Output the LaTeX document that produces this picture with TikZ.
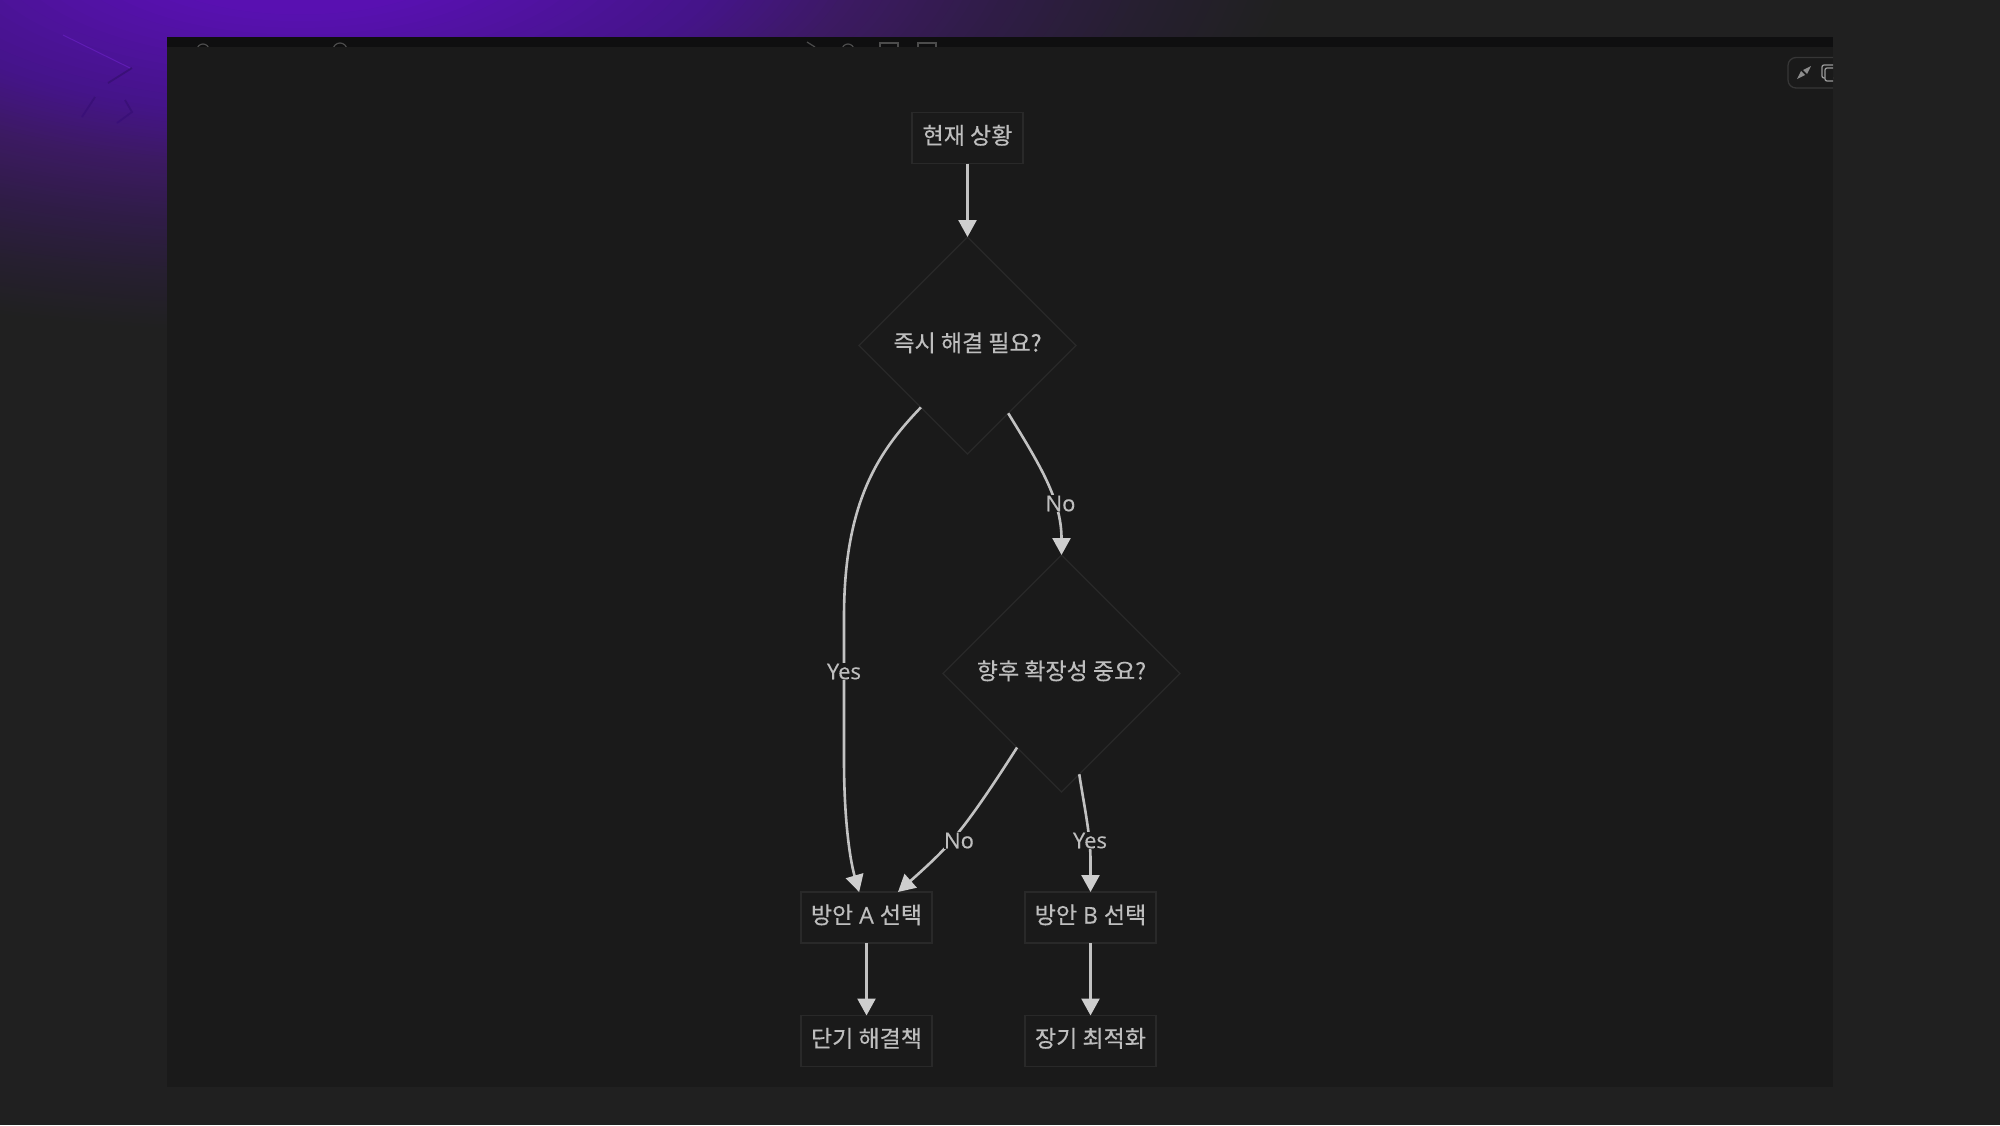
\documentclass[tikz,border=0pt]{standalone}
\usepackage{fontspec}
\setmainfont[FakeBold=0.35]{Open Sans}
\newfontfamily\cjk[FakeBold=0.35]{Noto Sans CJK KR}
\usetikzlibrary{arrows.meta,shapes.geometric}
\definecolor{pagebg}{HTML}{202020}
\definecolor{panelbg}{HTML}{1A1A1A}
\definecolor{barbg}{HTML}{0F0F10}
\definecolor{nodeline}{HTML}{292929}
\definecolor{ctlline}{HTML}{363636}
\definecolor{edgecol}{HTML}{C2C2C2}
\definecolor{tipcol}{HTML}{CECECE}
\definecolor{txtcol}{HTML}{BEBEBE}
\definecolor{gA}{HTML}{5A10B4}
\definecolor{gB}{HTML}{45148A}
\definecolor{gC}{HTML}{3C1A62}
\definecolor{gD}{HTML}{301C48}
\definecolor{gE}{HTML}{261F30}
\definecolor{markdark}{HTML}{3A1078}
\definecolor{marklight}{HTML}{5F1CB4}
\tikzset{
  box/.style={draw=nodeline,line width=1.2pt,fill=panelbg,text=txtcol,inner sep=0pt,outer sep=0pt,
    minimum width=131pt,minimum height=51pt,text height=16pt,text depth=4pt,font=\fontsize{23}{26}\selectfont},
  dec/.style={diamond,aspect=1,draw=nodeline,line width=1.2pt,fill=panelbg,text=txtcol,inner sep=0pt,outer sep=0pt,
    text height=16pt,text depth=4pt,font=\fontsize{23}{26}\selectfont},
  edge/.style={draw=edgecol,line width=2.6pt,-{Triangle[length=17pt,width=18pt,fill=tipcol,color=tipcol]}},
  lab/.style={fill=panelbg,text=txtcol,inner sep=0.5pt,outer sep=0pt,font=\fontsize{22}{24}\selectfont},
  tool/.style={draw=#1,line width=1.2pt,fill=none},
}
\begin{document}
\begin{tikzpicture}[x=1pt,y=-1pt]
\useasboundingbox (0,0) rectangle (2000,1125);
\fill[pagebg] (0,0) rectangle (2000,1125);
% purple glow: nested ellipses
\begin{scope}
  \clip (0,0) rectangle (2000,1125);
  \foreach \ra/\rb/\ca/\cb in {0.86/1.0/gE/pagebg,0.71/0.86/gD/gE,0.57/0.71/gC/gD,0.43/0.57/gB/gC,0.15/0.43/gA/gB}{
    \foreach \k in {16,15,...,1}{
      \pgfmathsetmacro{\rr}{\ra+(\rb-\ra)*\k/16}
      \pgfmathsetmacro{\pct}{100*\k/16}
      \fill[\cb!\pct!\ca] (300,-50) ellipse [x radius=\rr*1000, y radius=\rr*385];
    }
  }
\end{scope}
% faint marks in the glow
\begin{scope}[line width=1.8pt,draw=markdark]
  \draw (108,83) -- (132,68);
  \draw (82,117) -- (95,97);
  \draw (117,123) -- (132,112) -- (125,100);
\end{scope}
\draw[line width=1pt,draw=marklight] (63,35) -- (130,68);
% panel
\fill[panelbg] (167,37) rectangle (1833,1087);
\fill[barbg] (167,37) rectangle (1833,46.5);
% cut-off toolbar icons
\begin{scope}
  \clip (167,37) rectangle (1833,46.5);
  \draw[tool=gray!60!black] (203,50) circle (6);
  \draw[tool=gray!60!black] (340,50) circle (7);
  \draw[tool=gray!60!black] (807,42) -- (815,47);
  \draw[tool=gray!60!black] (848,50) circle (6);
  \draw[tool=gray!60!black] (880,43) rectangle (898,60);
  \draw[tool=gray!60!black] (918,43) rectangle (936,60);
\end{scope}
% small control at the top right
\begin{scope}
  \clip (1780,50) rectangle (1833,95);
  \draw[draw=ctlline,line width=1.3pt,rounded corners=8pt] (1788,57.5) rectangle (1860,88);
  \fill[gray!90] (1797,79) -- (1801,71) -- (1805,75) -- cycle;
  \fill[gray!90] (1811,66) -- (1803,70) -- (1807,74) -- cycle;
  \draw[draw=gray!80,line width=1.3pt,rounded corners=2pt] (1822,65) rectangle (1836,78);
  \draw[draw=gray!80,line width=1.3pt,fill=panelbg,rounded corners=2pt] (1825,68) rectangle (1840,81);
\end{scope}

% nodes
\node[box,minimum width=111pt] (start) at (967.5,138) {\cjk 현재 상황};
\node[dec,minimum width=217pt,minimum height=217pt] (d1) at (967.5,345.5) {\cjk 즉시 해결 필요?};
\node[dec,minimum width=237pt,minimum height=237pt] (d2) at (1061.5,673.5) {\cjk 향후 확장성 중요?};
\node[box] (A) at (866.5,917.5) {{\cjk 방안} A {\cjk 선택}};
\node[box] (B) at (1090.5,917.5) {{\cjk 방안} B {\cjk 선택}};
\node[box] (C) at (866.5,1041) {\cjk 단기 해결책};
\node[box] (D) at (1090.5,1041) {\cjk 장기 최적화};

% connectors
\draw[edge] (start.south) -- (d1.north);
\draw[edge] (d1.-127) .. controls (880,450) and (844,500) .. (844,617)
  -- (844,760) .. controls (844,820) and (850,860) .. (A.106);
\draw[edge] (d1.-59) .. controls (1040,465) and (1061.5,500) .. (d2.north);
\draw[edge] (d2.-121) .. controls (995,782) and (975,812) .. (958,833)
  .. controls (945,850) and (925,868) .. (A.39);
\draw[edge] (d2.-80) .. controls (1084,805) and (1090.5,835) .. (1090.5,860) -- (B.north);
\draw[edge] (A.south) -- (C.north);
\draw[edge] (B.south) -- (D.north);

% edge labels
\node[lab] (ly1) at (844,671.5) {Yes};
\node[lab] (ln1) at (1060.5,503.5) {No};
\node[lab] (ln2) at (959,840.5) {No};
\node[lab] (ly2) at (1090,840.5) {Yes};
\end{tikzpicture}
\end{document}
